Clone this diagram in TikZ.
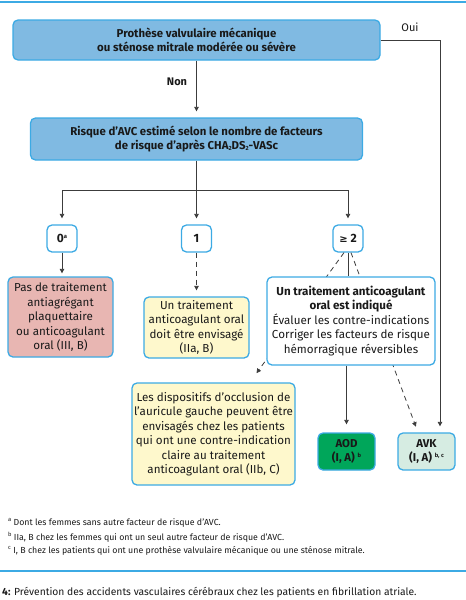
\documentclass[tikz,border=0pt]{standalone}
\usepackage{fontspec}
\setmainfont{Fira Sans}
\newfontfamily\symfont{DejaVu Sans}
\usetikzlibrary{arrows.meta,calc}
\definecolor{bordblue}{RGB}{60,170,228}
\definecolor{boxblue}{RGB}{128,186,226}
\definecolor{pinkfill}{RGB}{232,182,178}
\definecolor{yellowfill}{RGB}{254,248,204}
\definecolor{aodgreen}{RGB}{0,166,90}
\definecolor{avkfill}{RGB}{214,236,226}
\definecolor{linegray}{RGB}{60,60,60}
\definecolor{txt}{RGB}{25,25,25}
\tikzset{
  box/.style={draw=bordblue, line width=1.3pt, rounded corners=5pt, align=center, inner sep=0pt, text=txt, font=\fontsize{11.6}{14.5}\selectfont},
  bluebox/.style={box, fill=boxblue, font=\fontsize{11.4}{14}\selectfont\bfseries},
  numbox/.style={box, fill=white, minimum width=30pt, minimum height=27pt, font=\fontsize{12}{14}\selectfont\bfseries},
  endbox/.style={box, minimum width=57pt, minimum height=37pt, font=\fontsize{11.4}{14}\selectfont\bfseries},
  lbl/.style={inner sep=0pt, text=txt, font=\fontsize{11}{12}\selectfont\bfseries},
  foot/.style={inner sep=0pt, anchor=west, text=txt, font=\fontsize{8.8}{10}\selectfont},
  conn/.style={draw=linegray, line width=0.8pt},
  arr/.style={conn, -{Triangle[length=4.5pt,width=4.5pt]}, shorten >=6pt},
  darr/.style={arr, dash pattern=on 5pt off 4pt},
}
\newcommand{\smsub}[1]{\raisebox{-1.5pt}{\fontsize{6}{6}\selectfont #1}}
\newcommand{\smsup}[1]{\raisebox{3.8pt}{\fontsize{5.8}{6}\selectfont #1}}
\begin{document}
\begin{tikzpicture}[x=1pt,y=-1pt]
\useasboundingbox (0,0) rectangle (466,600);
\draw[bordblue, line width=2pt] (0,2) -- (466,2);

\node[bluebox, minimum width=367pt, minimum height=40pt] (q1) at (196.5,40) {Prothèse valvulaire mécanique\\ou sténose mitrale modérée ou sévère};
\node[bluebox, minimum width=332pt, minimum height=42pt] (risk) at (196.5,139) {Risque d'AVC estimé selon le nombre de facteurs\\de risque d'après CHA\smsub{2}DS\smsub{2}-VASc};

\node[lbl] (non) at (177,82) {Non};
\node[lbl, font=\fontsize{11}{12}\selectfont] (oui) at (410,27) {Oui};

\node[numbox] (n0) at (62,238.5) {0\smsup{a}};
\node[numbox] (n1) at (196.5,238.5) {1};
\node[numbox] (n2) at (348,238.5) {{\symfont\bfseries\fontsize{10}{12}\selectfont ≥} 2};

\node[box, fill=pinkfill, minimum width=105pt, minimum height=80pt] (none) at (60.5,317) {Pas de traitement\\antiagrégant\\plaquettaire\\ou anticoagulant\\oral (III, B)};
\node[box, fill=yellowfill, minimum width=105pt, minimum height=61pt] (consider) at (196.5,327.5) {Un traitement\\anticoagulant oral\\doit être envisagé\\(IIa, B)};
\node[box, fill=yellowfill, minimum width=163pt, minimum height=102pt] (occl) at (213.5,434) {Les dispositifs d'occlusion de\\l'auricule gauche peuvent être\\envisagés chez les patients\\qui ont une contre-indication\\claire au traitement\\anticoagulant oral (IIb, C)};
\node[endbox, fill=aodgreen] (aod) at (346.5,451.5) {AOD\\(I, A) \smsup{b}};
\node[endbox, fill=avkfill] (avk) at (426.5,451.5) {AVK\\(I, A) \smsup{b, c}};

\coordinate (occltip) at (253,378);
\draw[darr] ($(n2.south)+(-4,0)$) -- (occltip);
\draw[darr] ($(n2.south)+(3,0)$) -- ($(avk.north)+(-8.5,0)$);

\node[box, fill=white, minimum width=168pt, minimum height=88pt] (oac) at (351,321) {\textbf{Un traitement anticoagulant}\\\textbf{oral est indiqué}\\Évaluer les contre-indications\\Corriger les facteurs de risque\\hémorragique réversibles};

\draw[arr] (q1.south) -- (risk.north);
\draw[arr] (q1.east) -| ($(avk.north)+(13.5,0)$);
\coordinate (split) at (196.5,190);
\draw[conn] (risk.south) -- (split);
\draw[arr] (split) -| (n0.north);
\draw[arr] (split) -- (n1.north);
\draw[arr] (split) -| (n2.north);
\draw[arr, shorten >=3pt] (n0.south) -- (n0.south |- none.north);
\draw[darr] (n1.south) -- (n1.south |- consider.north);
\draw[conn] (n2.south) -- (n2.south |- oac.north);
\draw[arr, shorten >=8pt] (aod.north |- oac.south) -- (aod.north);

\node[foot] (fa) at (8,523) {\smsup{a} Dont les femmes sans autre facteur de risque d'AVC.};
\node[foot] (fb) at (8,537) {\smsup{b} IIa, B chez les femmes qui ont un seul autre facteur de risque d'AVC.};
\node[foot] (fc) at (8,551) {\smsup{c} I, B chez les patients qui ont une prothèse valvulaire mécanique ou une sténose mitrale.};

\draw[bordblue, line width=1.5pt] (0,571) -- (466,571);
\node[foot, font=\fontsize{10.3}{11}\selectfont] (cap) at (2,592) {\textbf{4:} Prévention des accidents vasculaires cérébraux chez les patients en fibrillation atriale.};
\end{tikzpicture}
\end{document}
